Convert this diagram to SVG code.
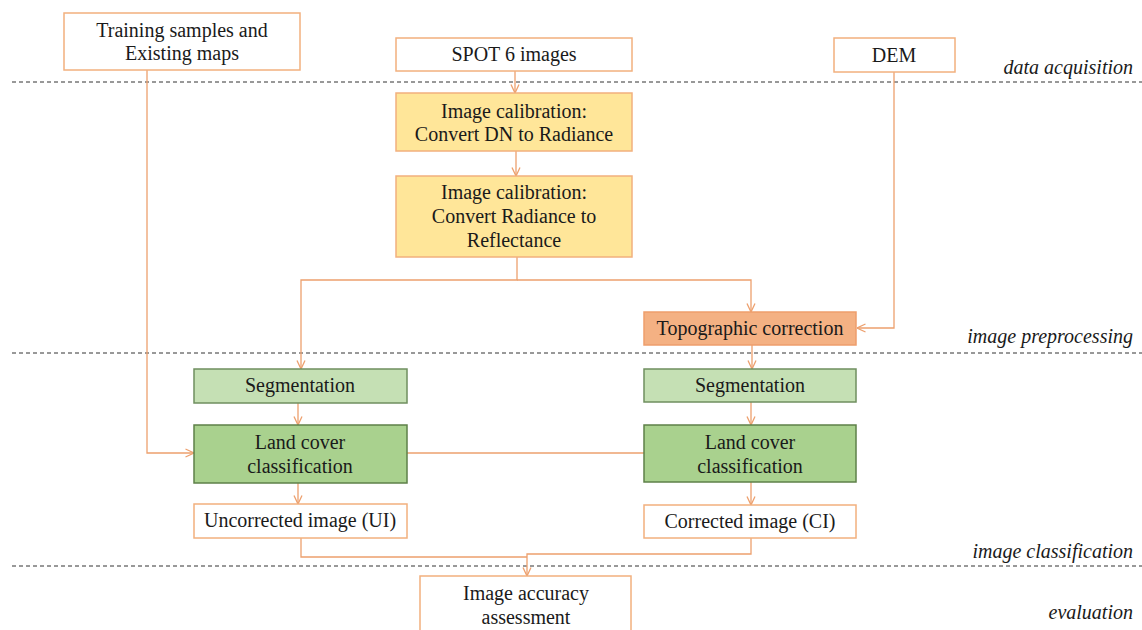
<svg xmlns="http://www.w3.org/2000/svg" width="1142" height="630" viewBox="0 0 1142 630">
<defs>
<marker id="arr" viewBox="0 0 10 10" refX="9.5" refY="5" markerWidth="10" markerHeight="10" markerUnits="userSpaceOnUse" orient="auto">
<path d="M1,1 L9.5,5 L1,9" fill="none" stroke="#EDA06E" stroke-width="1.3"/>
</marker>
</defs>
<style>
text{font-family:'Liberation Serif','Times New Roman',Times,serif;font-size:20px;fill:#1a1a1a}
.t{text-anchor:middle}
.lab{font-style:italic;text-anchor:end}
.w{fill:#ffffff;stroke:#F2B07E;stroke-width:1.5}
.y{fill:#FFE699;stroke:#F2B07E;stroke-width:1.5}
.o{fill:#F4B183;stroke:#EE9E6C;stroke-width:1.5}
.g1{fill:#C5E0B4;stroke:#6F8F5F;stroke-width:1.5}
.g2{fill:#A9D18E;stroke:#5E8048;stroke-width:1.5}
.c{fill:none;stroke:#EDA06E;stroke-width:1.3}
.d{stroke:#333;stroke-width:1;stroke-dasharray:4 3}
</style>
<rect width="1142" height="630" fill="#ffffff"/>
<g id="lanes" font-family="Liberation Serif, serif">
<line class="d" x1="12" y1="82" x2="1142" y2="82"/>
<line class="d" x1="12" y1="353" x2="1142" y2="353"/>
<line class="d" x1="12" y1="566" x2="1142" y2="566"/>
<text class="lab" x="1133" y="74">data acquisition</text>
<text class="lab" x="1133" y="343">image preprocessing</text>
<text class="lab" x="1133" y="558">image classification</text>
<text class="lab" x="1133" y="619">evaluation</text>
</g>
<g id="connectors">
<path class="c" d="M515,71 V93" marker-end="url(#arr)"/>
<path class="c" d="M516,151 V176" marker-end="url(#arr)"/>
<path class="c" d="M517,257 V280 H301 V369" marker-end="url(#arr)"/>
<path class="c" d="M517,280 H751 V312" marker-end="url(#arr)"/>
<path class="c" d="M894,72 V328 H857" marker-end="url(#arr)"/>
<path class="c" d="M752,345 V369" marker-end="url(#arr)"/>
<path class="c" d="M298,403 V425" marker-end="url(#arr)"/>
<path class="c" d="M751,402 V425" marker-end="url(#arr)"/>
<path class="c" d="M147,70 V453 H194" marker-end="url(#arr)"/>
<path class="c" d="M407,453 H644"/>
<path class="c" d="M298,483 V504" marker-end="url(#arr)"/>
<path class="c" d="M751,482 V505" marker-end="url(#arr)"/>
<path class="c" d="M301,538 V557 H527"/>
<path class="c" d="M751,538 V554 H527 V576" marker-end="url(#arr)"/>
</g>
<g id="training"><rect class="w" x="64" y="13" width="236" height="57"/><text class="t" x="182" y="37">Training samples and</text><text class="t" x="182" y="60">Existing maps</text></g>
<g id="spot"><rect class="w" x="396" y="38" width="236" height="33"/><text class="t" x="514" y="61">SPOT 6 images</text></g>
<g id="dem"><rect class="w" x="834" y="38" width="121" height="34"/><text class="t" x="894" y="62">DEM</text></g>
<g id="cal1"><rect class="y" x="396" y="93" width="236" height="58"/><text class="t" x="514" y="118">Image calibration:</text><text class="t" x="514" y="141">Convert DN to Radiance</text></g>
<g id="cal2"><rect class="y" x="396" y="176" width="236" height="81"/><text class="t" x="514" y="199">Image calibration:</text><text class="t" x="514" y="223">Convert Radiance to</text><text class="t" x="514" y="247">Reflectance</text></g>
<g id="topo"><rect class="o" x="644" y="312" width="212" height="33"/><text class="t" x="750" y="335">Topographic correction</text></g>
<g id="seg1"><rect class="g1" x="194" y="369" width="213" height="34"/><text class="t" x="300" y="392">Segmentation</text></g>
<g id="seg2"><rect class="g1" x="644" y="369" width="212" height="33"/><text class="t" x="750" y="392">Segmentation</text></g>
<g id="lc1"><rect class="g2" x="194" y="425" width="213" height="58"/><text class="t" x="300" y="449">Land cover</text><text class="t" x="300" y="473">classification</text></g>
<g id="lc2"><rect class="g2" x="644" y="425" width="212" height="57"/><text class="t" x="750" y="449">Land cover</text><text class="t" x="750" y="473">classification</text></g>
<g id="ui"><rect class="w" x="194" y="504" width="213" height="34"/><text class="t" x="300" y="527">Uncorrected image (UI)</text></g>
<g id="ci"><rect class="w" x="644" y="505" width="212" height="33"/><text class="t" x="750" y="528">Corrected image (CI)</text></g>
<g id="acc"><rect class="w" x="420" y="576" width="211" height="70"/><text class="t" x="526" y="600">Image accuracy</text><text class="t" x="526" y="624">assessment</text></g>
</svg>
